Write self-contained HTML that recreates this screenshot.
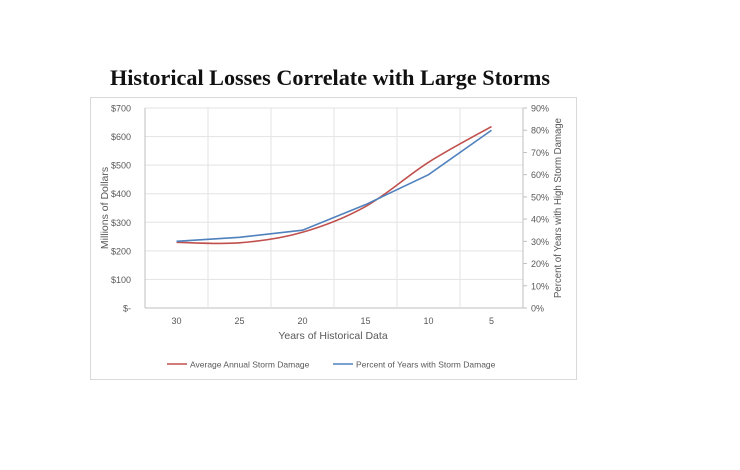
<!DOCTYPE html>
<html><head><meta charset="utf-8"><style>
body{margin:0;background:#fff;width:740px;height:465px;overflow:hidden;font-family:"Liberation Sans",sans-serif}
</style></head><body>
<svg id="chart" width="740" height="465" xmlns="http://www.w3.org/2000/svg">
<text x="330" y="85" text-anchor="middle" font-family="Liberation Serif, serif" font-weight="bold" font-size="22" textLength="440" lengthAdjust="spacingAndGlyphs" fill="#111">Historical Losses Correlate with Large Storms</text>
<rect x="90.5" y="97.5" width="486" height="282" fill="none" stroke="#d9d9d9"/>
<g id="grid"></g><g id="axes"></g><g id="series"></g>
<text transform="translate(108,208) rotate(-90)" text-anchor="middle" font-size="10.5" fill="#595959">Millions of Dollars</text>
<text transform="translate(561,208) rotate(-90)" text-anchor="middle" font-size="10.5" textLength="180" lengthAdjust="spacingAndGlyphs" fill="#595959">Percent of Years with High Storm Damage</text>
<text x="333" y="339" text-anchor="middle" font-size="10.5" fill="#595959">Years of Historical Data</text>
<g>
<line x1="167" y1="364" x2="187" y2="364" stroke="#c0504d" stroke-width="1.5"/>
<text x="190" y="367.5" font-size="8.5" fill="#595959">Average Annual Storm Damage</text>
<line x1="333" y1="364" x2="353" y2="364" stroke="#4f81bd" stroke-width="1.5"/>
<text x="356" y="367.5" font-size="8.5" fill="#595959">Percent of Years with Storm Damage</text>
</g>
</svg>
<script>
const categories=["30","25","20","15","10","5"];
const damageValues=[230,228,265,355,510,635];
const percentValues=[30,31.8,35,46.5,60,80];
const leftTicks=["$-","$100","$200","$300","$400","$500","$600","$700"];
const rightTicks=["0%","10%","20%","30%","40%","50%","60%","70%","80%","90%"];
const NS="http://www.w3.org/2000/svg";
const L=145,R=523,T=108,B=308,band=(R-L)/categories.length;
const xS=i=>L+band*(i+0.5);
const yL=v=>B-v/700*(B-T);
const yR=v=>B-v/90*(B-T);
function mk(tag,attrs,parent,txt){const e=document.createElementNS(NS,tag);for(const k in attrs)e.setAttribute(k,attrs[k]);if(txt!==undefined)e.textContent=txt;parent.appendChild(e);return e;}
const grid=document.getElementById('grid'),axes=document.getElementById('axes'),ser=document.getElementById('series');
leftTicks.forEach((t,i)=>{const y=yL(i*100);
 const g=mk('line',{x1:L,x2:R,y1:y,y2:y,stroke:i==0?'#bfbfbf':'#e3e3e3'},grid);
 
 
 const tx=mk('text',{x:131,y:y+3.5,'text-anchor':'end','font-size':9,fill:'#595959'},axes,t);
 
 });
for(let i=0;i<=categories.length;i++){const x=L+band*i;
 const g=mk('line',{x1:x,x2:x,y1:T,y2:B,stroke:i==0?'#bfbfbf':'#e3e3e3'},grid);
 
 }
mk('line',{x1:R,x2:R,y1:T,y2:B,stroke:'#bfbfbf'},axes);
rightTicks.forEach((t,i)=>{const y=yR(i*10);
 mk('line',{x1:R,x2:R+4,y1:y,y2:y,stroke:'#bfbfbf'},axes);
 const tx=mk('text',{x:531,y:y+3.5,'font-size':9,fill:'#595959'},axes,t);
 
 });
categories.forEach((c,i)=>{const tx=mk('text',{x:xS(i),y:324,'text-anchor':'middle','font-size':9,fill:'#595959'},axes,c);
 
 });
const rp=damageValues.map((v,i)=>[xS(i),yL(v)]);
let d='M'+rp[0][0]+','+rp[0][1];
for(let i=0;i<rp.length-1;i++){const p0=rp[Math.max(0,i-1)],p1=rp[i],p2=rp[i+1],p3=rp[Math.min(rp.length-1,i+2)];
 d+=` C${p1[0]+(p2[0]-p0[0])/6},${p1[1]+(p2[1]-p0[1])/6} ${p2[0]-(p3[0]-p1[0])/6},${p2[1]-(p3[1]-p1[1])/6} ${p2[0]},${p2[1]}`;}
const red=mk('path',{d:d,fill:'none',stroke:'#c0504d','stroke-width':1.6},ser);


const blue=mk('polyline',{points:percentValues.map((v,i)=>xS(i)+','+yR(v)).join(' '),fill:'none',stroke:'#4f81bd','stroke-width':1.6},ser);


</script>
</body></html>
